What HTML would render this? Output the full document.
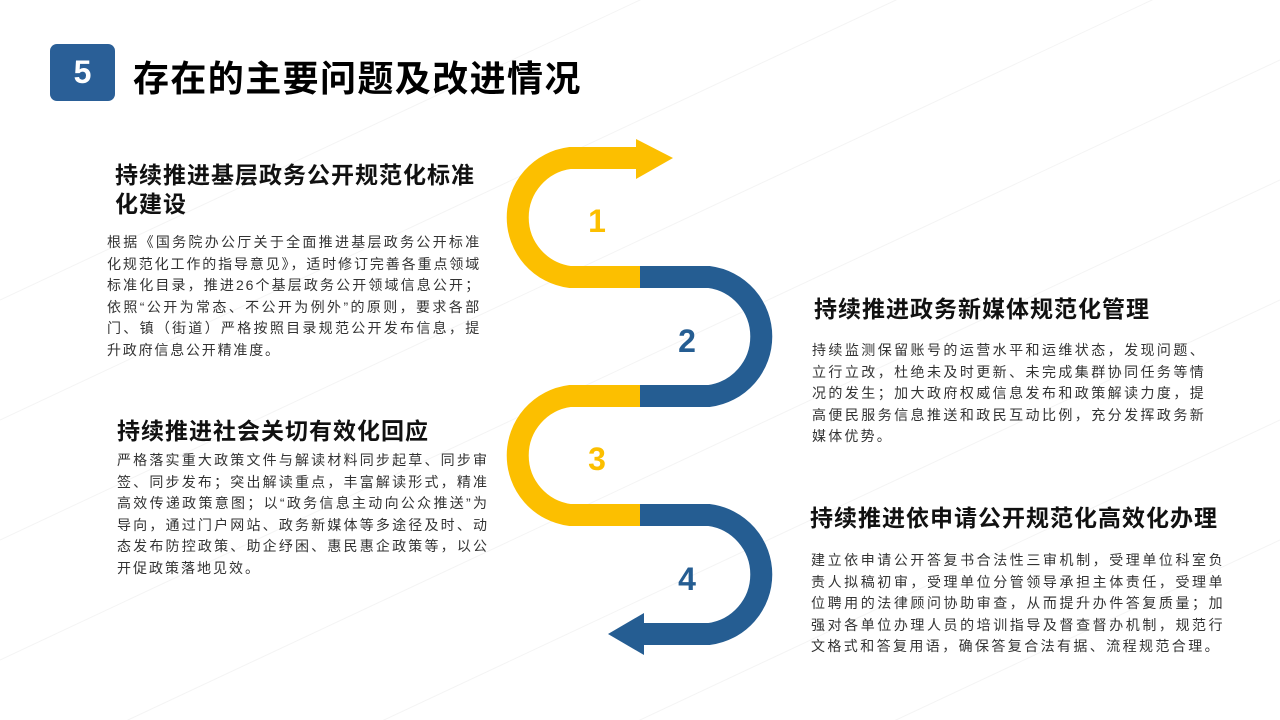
<!DOCTYPE html>
<html><head><meta charset="utf-8"><style>
html,body{margin:0;width:1280px;height:720px;overflow:hidden}
body{background:#fff;position:relative;font-family:"Liberation Sans","Noto Sans CJK SC",sans-serif;color:#222}
.a{position:absolute}
h2{position:absolute;margin:0;font-size:23px;font-weight:bold;color:#111;line-height:29px;letter-spacing:1px}
p{position:absolute;margin:0;font-size:14px;line-height:21.6px;color:#333;text-align:justify}
</style></head><body>
<svg class="a" style="left:0;top:0" width="1280" height="720">
<g stroke="#f4f4f4" stroke-width="1">
<line x1="0" y1="300" x2="1280" y2="-300"/><line x1="0" y1="420" x2="1280" y2="-180"/><line x1="0" y1="540" x2="1280" y2="-60"/><line x1="0" y1="660" x2="1280" y2="60"/><line x1="0" y1="780" x2="1280" y2="180"/><line x1="0" y1="900" x2="1280" y2="300"/><line x1="0" y1="1020" x2="1280" y2="420"/><line x1="0" y1="1140" x2="1280" y2="540"/>
</g>
<g fill="none" stroke-width="22">
<path d="M640 277 H570 A60 60 0 0 1 570 158 H640" stroke="#fcbf00"/>
<path d="M640 515 H570 A60 60 0 0 1 570 396 H640" stroke="#fcbf00"/>
<path d="M640 277 H709 A60 60 0 0 1 709 396 H640" stroke="#255d92"/>
<path d="M640 515 H709 A60 60 0 0 1 709 634 H640" stroke="#255d92"/>
</g>
<polygon points="636,139 673,158 636,179" fill="#fcbf00"/>
<polygon points="644,613 608,634 644,655" fill="#255d92"/>
<g font-family="Liberation Sans,sans-serif" font-weight="bold" font-size="32" text-anchor="middle">
<text x="597" y="232" fill="#fcbf00">1</text>
<text x="687" y="352" fill="#255d92">2</text>
<text x="597" y="470" fill="#fcbf00">3</text>
<text x="687" y="590" fill="#255d92">4</text>
</g>
</svg>
<div class="a" style="left:50px;top:44px;width:65px;height:57px;background:#2a5f97;border-radius:7px;color:#fff;font-weight:bold;font-size:32px;line-height:57px;text-align:center;font-family:'Liberation Sans',sans-serif">5</div>
<div class="a" style="left:133px;top:57px;font-size:36px;font-weight:bold;color:#000;line-height:44px;letter-spacing:1.4px">存在的主要问题及改进情况</div>

<h2 style="left:115px;top:161px;width:368px">持续推进基层政务公开规范化标准化建设</h2>
<p style="left:107px;top:232px;width:374px;letter-spacing:1.8px">根据《国务院办公厅关于全面推进基层政务公开标准化规范化工作的指导意见》，适时修订完善各重点领域标准化目录，推进26个基层政务公开领域信息公开；依照“公开为常态、不公开为例外”的原则，要求各部门、镇（街道）严格按照目录规范公开发布信息，提升政府信息公开精准度。</p>

<h2 style="left:117px;top:417px;width:380px">持续推进社会关切有效化回应</h2>
<p style="left:117px;top:450px;width:372px;letter-spacing:2px">严格落实重大政策文件与解读材料同步起草、同步审签、同步发布；突出解读重点，丰富解读形式，精准高效传递政策意图；以“政务信息主动向公众推送”为导向，通过门户网站、政务新媒体等多途径及时、动态发布防控政策、助企纾困、惠民惠企政策等，以公开促政策落地见效。</p>

<h2 style="left:814px;top:295px;width:420px">持续推进政务新媒体规范化管理</h2>
<p style="left:812px;top:340px;width:394px;letter-spacing:2.2px">持续监测保留账号的运营水平和运维状态，发现问题、立行立改，杜绝未及时更新、未完成集群协同任务等情况的发生；加大政府权威信息发布和政策解读力度，提高便民服务信息推送和政民互动比例，充分发挥政务新媒体优势。</p>

<h2 style="left:810px;top:504px;width:440px">持续推进依申请公开规范化高效化办理</h2>
<p style="left:811px;top:550px;width:414px;letter-spacing:2.4px">建立依申请公开答复书合法性三审机制，受理单位科室负责人拟稿初审，受理单位分管领导承担主体责任，受理单位聘用的法律顾问协助审查，从而提升办件答复质量；加强对各单位办理人员的培训指导及督查督办机制，规范行文格式和答复用语，确保答复合法有据、流程规范合理。</p>
</body></html>
